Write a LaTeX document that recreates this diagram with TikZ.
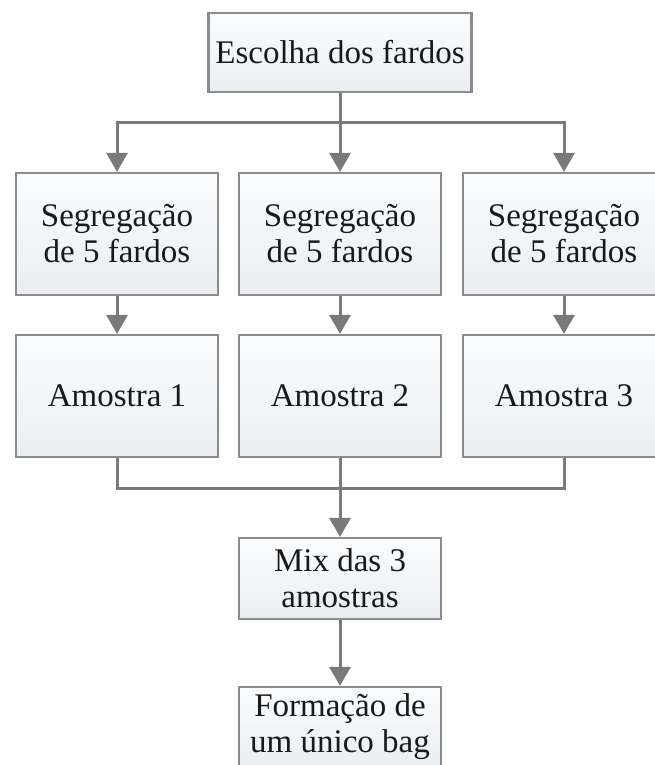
\documentclass[tikz,border=0pt]{standalone}
\usepackage{fontspec}
\setmainfont{Liberation Serif}
\usetikzlibrary{arrows.meta}
\definecolor{boxline}{HTML}{8C8C8C}
\definecolor{boxfillA}{HTML}{FBFCFD}
\definecolor{boxfillB}{HTML}{EAEEF3}
\definecolor{arrowgray}{HTML}{7A7A7A}
\tikzset{
  stepbox/.style={draw=boxline, line width=2.2pt, top color=boxfillA, bottom color=boxfillB,
    align=center, inner sep=0pt, font=\fontsize{33}{36}\selectfont, text=black!90},
  conn/.style={draw=arrowgray, line width=3pt},
  arr/.style={conn, -{Triangle[length=19pt,width=21pt]}}
}
\begin{document}
\begin{tikzpicture}[x=1pt,y=-1pt]
\useasboundingbox (0,0) rectangle (655,765);
\node[stepbox, minimum width=263pt, minimum height=79pt] (top) at (340,52.5) {Escolha dos fardos};
\node[stepbox, minimum width=202pt, minimum height=122pt] (seg1) at (117,234) {Segregação\\de 5 fardos};
\node[stepbox, minimum width=202pt, minimum height=122pt] (seg2) at (340,234) {Segregação\\de 5 fardos};
\node[stepbox, minimum width=202pt, minimum height=122pt] (seg3) at (564,234) {Segregação\\de 5 fardos};
\node[stepbox, minimum width=202pt, minimum height=122pt] (am1) at (117,396) {Amostra 1};
\node[stepbox, minimum width=202pt, minimum height=122pt] (am2) at (340,396) {Amostra 2};
\node[stepbox, minimum width=202pt, minimum height=122pt] (am3) at (564,396) {Amostra 3};
\node[stepbox, minimum width=202pt, minimum height=81pt] (mix) at (340,578.5) {Mix das 3\\amostras};
\node[stepbox, minimum width=202pt, minimum height=80pt] (form) at (340,727) {Formação de\\um único bag};
\coordinate (split) at (340,123);
\coordinate (join) at (340,488);
\draw[conn] (top.south) -- (split);
\draw[arr] (split) -| (seg1.north);
\draw[arr] (split) -- (seg2.north);
\draw[arr] (split) -| (seg3.north);
\draw[arr] (seg1) -- (am1);
\draw[arr] (seg2) -- (am2);
\draw[arr] (seg3) -- (am3);
\draw[conn] (am1.south) |- (join);
\draw[conn] (am3.south) |- (join);
\draw[arr] (am2.south) -- (mix.north);
\draw[arr] (mix) -- (form);
\end{tikzpicture}
\end{document}
